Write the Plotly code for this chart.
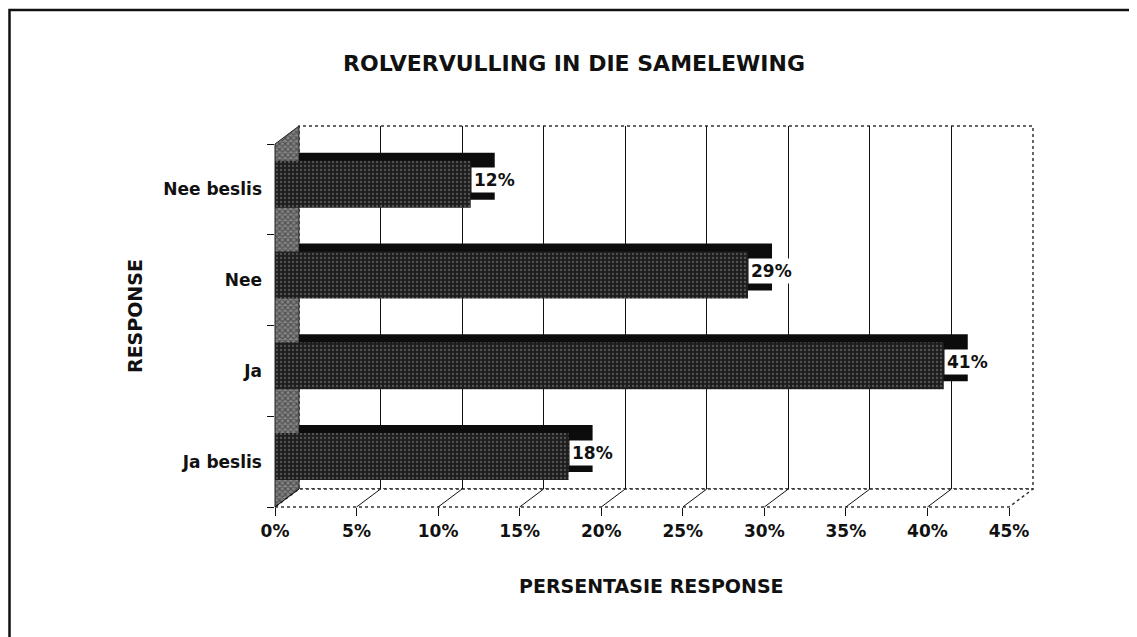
import plotly.graph_objects as go

# ---------------- data ----------------
categories = ["Ja beslis", "Ja", "Nee", "Nee beslis"]
values = [18, 41, 29, 12]
value_labels = ["18%", "41%", "29%", "12%"]
x_ticks = [0, 5, 10, 15, 20, 25, 30, 35, 40, 45]
x_ticktext = ["0%", "5%", "10%", "15%", "20%", "25%", "30%", "35%", "40%", "45%"]
title_text = "ROLVERVULLING IN DIE SAMELEWING"
x_title = "PERSENTASIE RESPONSE"
y_title = "RESPONSE"

# ---------------- geometry (pixels, in screenshot coordinates) ----------------
W, H = 1137, 637
PAGE_OFF = 8              # browser default body margin
FX0, FX1 = 275, 1009      # front x axis extent
FYB, FYT = 507, 144       # front y axis bottom/top
DX, DY = 24, 18           # wall depth offset
BAR_DX, BAR_DY = 24, 8    # bar depth offset
XMAX = 45

def px(x):
    return (x - PAGE_OFF) / W

def py(y):
    return 1 - (y - PAGE_OFF) / H

scale = (FX1 - FX0) / XMAX            # px per unit
band = (FYB - FYT) / len(categories)  # px per category
fx = lambda v: FX0 + v * scale
bx = lambda v: FX0 + DX + v * scale

front_offset = -0.203
bar_width = 0.518
back_offset = front_offset + BAR_DY / band
back_base = BAR_DX / scale

fig = go.Figure()

# --- base pixel subplot: left wall, floor, floor diagonals ---
wall_x = [FX0, FX0, FX0 + DX, FX0 + DX, FX0]
wall_y = [FYB, FYT, FYT - DY, FYB - DY, FYB]
fig.add_trace(go.Scatter(
    x=wall_x, y=wall_y, mode="lines", fill="toself",
    line=dict(color="#222", width=1),
    fillcolor="#6e6e6e",
    fillpattern=dict(shape="x", fgcolor="#1a1a1a", bgcolor="#858585", size=4, solidity=0.5),
    hoverinfo="skip", showlegend=False, xaxis="x", yaxis="y"))

floor_x = [FX0, FX1, FX1 + DX, FX0 + DX, FX0]
floor_y = [FYB, FYB, FYB - DY, FYB - DY, FYB]
fig.add_trace(go.Scatter(
    x=floor_x, y=floor_y, mode="lines", fill="toself", fillcolor="white",
    line=dict(color="#333", width=1.5, dash="dot"),
    hoverinfo="skip", showlegend=False, xaxis="x", yaxis="y"))

dx_list, dy_list = [], []
for v in x_ticks[:-1]:
    dx_list += [fx(v), bx(v), None]
    dy_list += [FYB, FYB - DY, None]
fig.add_trace(go.Scatter(
    x=dx_list, y=dy_list, mode="lines", line=dict(color="#111", width=1),
    hoverinfo="skip", showlegend=False, xaxis="x", yaxis="y"))

# --- back wall subplot (gridlines) ---
fig.add_trace(go.Scatter(x=[0], y=[0], mode="none", hoverinfo="skip",
                         showlegend=False, xaxis="x2", yaxis="y2"))

# --- front subplot: bars ---
fig.add_trace(go.Bar(
    y=categories, x=values, base=[back_base] * len(values), orientation="h",
    offset=back_offset, width=bar_width,
    marker=dict(color="#0c0c0c", line=dict(width=0)),
    hoverinfo="skip", showlegend=False, xaxis="x3", yaxis="y3"))
fig.add_trace(go.Bar(
    y=categories, x=values, orientation="h",
    offset=front_offset, width=bar_width,
    marker=dict(color="#1e1e1e", line=dict(width=0),
                pattern=dict(shape=".", fgcolor="#8a8a8a", size=4, solidity=0.25)),
    hoverinfo="skip", showlegend=False, xaxis="x3", yaxis="y3"))

label_font = dict(family="DejaVu Sans", size=17, color="#111", weight="bold")
for cat, v, lab in zip(categories, values, value_labels):
    fig.add_annotation(x=v, y=cat, xref="x3", yref="y3", text=lab,
                       showarrow=False, xanchor="left", yanchor="middle",
                       xshift=0, yshift=9, bgcolor="white", borderpad=2,
                       font=label_font)

tick_font = dict(family="DejaVu Sans", size=17, color="#111", weight="bold")

fig.update_layout(
    width=W, height=H, autosize=False,
    margin=dict(l=0, r=0, t=0, b=0, pad=0, autoexpand=False),
    paper_bgcolor="white", plot_bgcolor="rgba(0,0,0,0)",
    barmode="overlay", showlegend=False,
    xaxis=dict(domain=[0, 1], range=[PAGE_OFF, W + PAGE_OFF], visible=False, fixedrange=True),
    yaxis=dict(domain=[0, 1], range=[H + PAGE_OFF, PAGE_OFF], visible=False, fixedrange=True),
    xaxis2=dict(domain=[px(FX0 + DX), px(FX1 + DX)], range=[0, XMAX], anchor="y2",
                tickvals=x_ticks[1:-1], showticklabels=False, ticks="",
                showgrid=True, gridcolor="#111", gridwidth=1,
                zeroline=False, showline=False, fixedrange=True, automargin=False),
    yaxis2=dict(domain=[py(FYB - DY), py(FYT - DY)], range=[0, 1], anchor="x2",
                showgrid=False, zeroline=False, showticklabels=False, ticks="",
                showline=False, fixedrange=True, automargin=False),
    xaxis3=dict(domain=[px(FX0), px(FX1)], range=[0, XMAX], anchor="y3",
                tickvals=x_ticks, ticktext=x_ticktext, ticks="outside", ticklen=8,
                tickcolor="#111", tickwidth=1, ticklabelstandoff=1,
                showgrid=False, zeroline=False, showline=False,
                tickfont=tick_font, fixedrange=True, automargin=False),
    yaxis3=dict(domain=[py(FYB), py(FYT)], type="category",
                categoryorder="array", categoryarray=categories,
                range=[-0.5, len(categories) - 0.5], anchor="x3",
                ticks="outside", tickson="boundaries", ticklen=7,
                tickcolor="#111", tickwidth=1, ticklabelstandoff=12,
                showgrid=False, zeroline=False, showline=False,
                tickfont=tick_font, fixedrange=True, automargin=False),
    shapes=[
        # back wall border (dotted)
        dict(type="rect", xref="x2 domain", yref="y2 domain", x0=0, x1=1, y0=0, y1=1,
             line=dict(color="#333", width=1.5, dash="dot"), layer="below"),
        # outer frame
        dict(type="rect", xref="paper", yref="paper", x0=1.5 / W, x1=1.05,
             y0=-0.05, y1=py(10), line=dict(color="#111", width=2.5)),
    ],
    annotations=list(fig.layout.annotations) + [
        dict(text=title_text, x=px(574), y=py(63), xref="paper", yref="paper",
             showarrow=False, xanchor="center", yanchor="middle",
             font=dict(family="DejaVu Sans", size=22, color="#111", weight="bold")),
        dict(text=y_title, x=px(135), y=py(316), xref="paper", yref="paper",
             showarrow=False, textangle=-90, xanchor="center", yanchor="middle",
             font=dict(family="DejaVu Sans", size=19, color="#111", weight="bold")),
        dict(text=x_title, x=px(651), y=py(586), xref="paper", yref="paper",
             showarrow=False, xanchor="center", yanchor="middle",
             font=dict(family="DejaVu Sans", size=19, color="#111", weight="bold")),
    ],
)

fig.write_html("out.html")
